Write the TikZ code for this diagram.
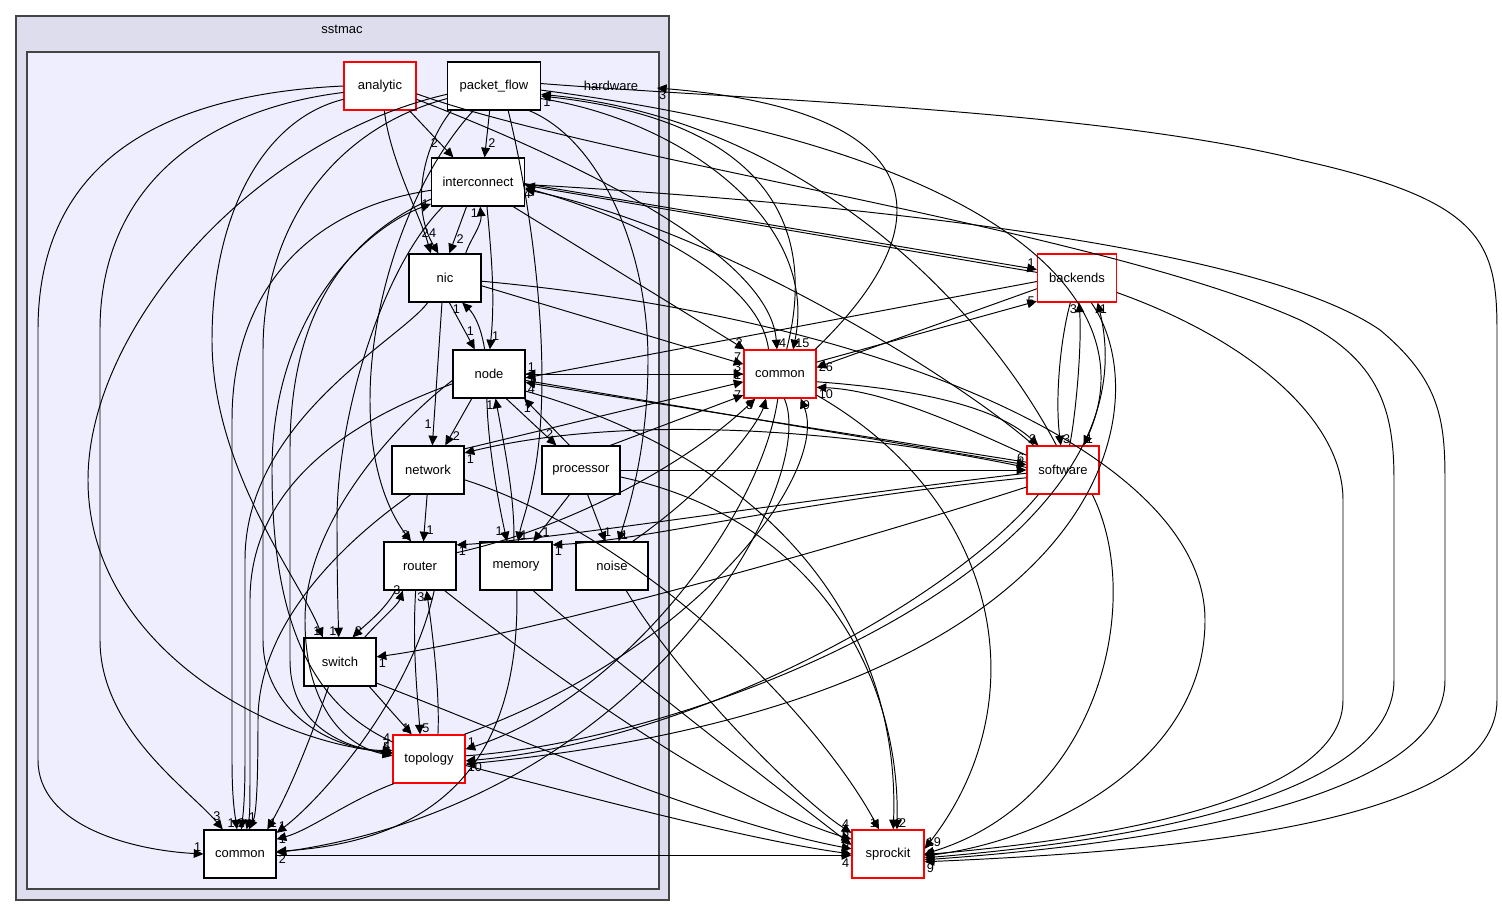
\documentclass[tikz,border=0pt]{standalone}
\usepackage{fontspec}
\setmainfont{Liberation Sans}
\usetikzlibrary{arrows.meta,calc,positioning}
\definecolor{outerfill}{HTML}{DDDDEE}
\definecolor{innerfill}{HTML}{EEEEFF}
\definecolor{clborder}{HTML}{444444}
\tikzset{
    >={Triangle[length=5.5pt,width=5pt]},
    dirbox/.style={
           rectangle,
           draw=black, line width=0.7pt,
           fill=white,
           minimum width=1.44cm,
           minimum height=0.96cm,
           inner sep=0pt,
           font=\fontsize{7.4pt}{8pt}\selectfont,
           text centered},
    redbox/.style={dirbox, draw=red},
    clframe/.style={draw=clborder, line width=0.9pt},
    cllabel/.style={font=\fontsize{7.4pt}{8pt}\selectfont, inner sep=0pt},
    dep/.style={
           ->,
           line width=0.55pt},
    hl/.style={font=\fontsize{7.2pt}{8pt}\selectfont, inner sep=1pt}
}

\begin{document}
\begin{tikzpicture}[x=0.02cm,y=-0.02cm]
          \useasboundingbox (0,0) rectangle (1502,916);
          % clusters
          \draw[clframe, fill=outerfill] (16,16) rectangle (669,900);
          \node[cllabel] (sstmaclbl) at (342,29) {sstmac};
          \draw[clframe, fill=innerfill] (27,52) rectangle (659,889);
          \node[cllabel] (hardwarelbl) at (611,86) {hardware};
          \coordinate (hardware) at (657,88);
          % directories
          \node[redbox] (analytic) at (380,86) {analytic};
          \node[dirbox, minimum width=1.86cm] (packetflow) at (494,86) {packet\_flow};
          \node[dirbox, minimum width=1.86cm] (interconnect) at (478,182) {interconnect};
          \node[dirbox] (nic) at (445,278) {nic};
          \node[dirbox] (hwnode) at (489,374) {node};
          \node[dirbox] (network) at (428,470) {network};
          \node[dirbox, minimum width=1.56cm] (processor) at (581,470) {processor};
          \node[dirbox] (router) at (420,566) {router};
          \node[dirbox] (memory) at (516,566) {memory};
          \node[dirbox] (noise) at (612,566) {noise};
          \node[dirbox] (switch) at (340,662) {switch};
          \node[redbox] (topology) at (429,759) {topology};
          \node[dirbox] (hwcommon) at (240,854) {common};
          \node[redbox] (common) at (780,374) {common};
          \node[redbox, minimum width=1.58cm] (backends) at (1077,278) {backends};
          \node[redbox] (software) at (1063,470) {software};
          \node[redbox] (sprockit) at (888,854) {sprockit};
          % analytic
          \draw[dep] (analytic.west) .. controls (150,95) and (38,170) .. (38,330) -- (38,760) .. controls (38,825) and (130,850) .. (hwcommon.west) node[hl,above left]{1};
          \draw[dep] (analytic.190) .. controls (200,110) and (100,190) .. (100,330) -- (100,640) .. controls (100,730) and (190,790) .. (hwcommon.125) node[hl,above left,yshift=4pt]{3};
          \draw[dep] (analytic.200) .. controls (260,120) and (212,220) .. (212,340) .. controls (212,470) and (300,580) .. (switch.125) node[hl,above left]{1};
          \draw[dep] (analytic.-40) -- (interconnect.135) node[hl,pos=.7,left]{2};
          \draw[dep] (analytic.-80) .. controls (390,160) and (420,215) .. (nic.120) node[hl,above left,yshift=8]{2};
          \draw[dep] (analytic.-20) .. controls (600,170) and (770,260) .. (common.97) node[hl,above right]{4};
          \draw[dep] (analytic.-12) .. controls (600,160) and (1100,230) .. (1300,320) .. controls (1380,360) and (1394,410) .. (1394,480) -- (1394,680) .. controls (1394,780) and (1200,835) .. (sprockit.-6) node[hl,right,yshift=2pt]{3};
          % packet_flow
          \draw[dep] (packetflow.-100) -- (interconnect.75) node[hl,pos=.7,right]{2};
          \draw[dep] (packetflow.190) .. controls (250,140) and (88,330) .. (88,480) .. controls (88,640) and (260,740) .. (topology.170) node[hl,above left]{4};
          \draw[dep] (packetflow.195) .. controls (330,130) and (263,230) .. (263,350) -- (263,640) .. controls (263,710) and (330,750) .. (topology.167) node[hl,above left,yshift=-2]{5};
          \draw[dep] (packetflow.-150) .. controls (420,150) and (412,210) .. (nic.105) node[hl,above left,yshift=8]{4};
          \draw[dep] (packetflow.-130) .. controls (410,180) and (370,300) .. (370,400) .. controls (370,480) and (395,520) .. (router.110) node[hl,above left]{2};
          \draw[dep] (packetflow.-60) .. controls (530,200) and (548,330) .. (540,430) .. controls (535,490) and (522,520) .. (memory.85) node[hl,above right]{1};
          \draw[dep] (packetflow.-35) .. controls (600,140) and (648,250) .. (648,360) .. controls (648,450) and (628,510) .. (noise.75) node[hl,above right]{1};
          \draw[dep] (packetflow.-15) .. controls (680,120) and (820,220) .. (common.62) node[hl,above right]{15};
          \draw[dep] (packetflow.-5) .. controls (1000,150) and (1150,300) .. (software.50) node[hl,above right]{1};
          \draw[dep] (packetflow.3) .. controls (750,100) and (1100,110) .. (1300,160) .. controls (1480,200) and (1497,240) .. (1497,330) -- (1497,700) .. controls (1497,820) and (1200,850) .. (sprockit.-12) node[hl,below right]{9};
          \draw[dep] (common.75) .. controls (820,220) and (760,120) .. (packetflow.-12) node[hl,below right]{1};
          \draw[dep] (software.105) .. controls (980,300) and (800,120) .. (packetflow.-10);
          \draw[dep] (common.35) .. controls (950,220) and (930,110) .. (hardware) node[hl,below right]{3};
          % interconnect
          \draw[dep] (interconnect.-115) -- (nic.80) node[hl,pos=.7,right]{2};
          \draw[dep] (nic.50) .. controls (470,240) and (482,225) .. (interconnect.-85) node[hl,below left]{1};
          \draw[dep] (interconnect.-70) .. controls (492,260) and (495,300) .. (hwnode.88) node[hl,above right,yshift=4]{1};
          \draw[dep] (interconnect.-35) -- (common.145) node[hl,above left]{2};
          \draw[dep] (interconnect.-160) .. controls (340,240) and (290,320) .. (290,450) -- (290,660) .. controls (290,730) and (350,748) .. (topology.172) node[hl,above left,yshift=5pt]{4};
          \draw[dep] (interconnect.-170) .. controls (300,210) and (232,300) .. (232,420) -- (232,760) .. controls (232,800) and (235,815) .. (hwcommon.97) node[hl,above left]{1};
          \draw[dep] (interconnect.-145) .. controls (380,270) and (337,420) .. (337,520) .. controls (337,580) and (338,610) .. (switch.93) node[hl,above left]{1};
          \draw[dep] (interconnect.-2) -- (backends.168) node[hl,above left]{1};
          \draw[dep] (backends.172) -- (interconnect.-4) node[hl,below right]{5};
          \draw[dep] (common.115) .. controls (760,280) and (640,220) .. (interconnect.-7) node[hl,below right,xshift=-2pt]{4};
          \draw[dep] (software.140) .. controls (960,380) and (720,230) .. (interconnect.-9);
          \draw[dep] (topology.155) .. controls (300,700) and (272,600) .. (272,470) .. controls (272,320) and (360,230) .. (interconnect.-155) node[hl,left]{1};
          \draw[dep] (interconnect.-3) .. controls (800,200) and (1250,240) .. (1380,330) .. controls (1440,380) and (1445,420) .. (1445,480) -- (1445,680) .. controls (1445,790) and (1200,840) .. (sprockit.-9);
          % nic
          \draw[dep] (nic.-80) -- (hwnode.120) node[hl,pos=.6,right]{1};
          \draw[dep] (hwnode.100) .. controls (480,320) and (470,310) .. (nic.-55) node[hl,below left]{1};
          \draw[dep] (nic.-97) -- (network.80) node[hl,pos=.85,left]{1};
          \draw[dep] (nic.-12) -- (common.165) node[hl,above left]{7};
          \draw[dep] (nic.-5) .. controls (900,320) and (1205,460) .. (1205,620) .. controls (1205,760) and (1050,840) .. (sprockit.-3);
          \draw[dep] (nic.-125) .. controls (400,340) and (245,420) .. (245,560) -- (245,760) .. controls (245,800) and (243,815) .. (hwcommon.87) node[hl,above]{2};
          % node
          \draw[dep] (hwnode.-125) -- (network.55) node[hl,pos=.8,right]{2};
          \draw[dep] (hwnode.-55) -- (processor.135) node[hl,pos=.75,right]{2};
          \draw[dep] (processor.115) -- (hwnode.-35) node[hl,pos=.8,left]{1};
          \draw[dep] (hwnode.-95) .. controls (488,450) and (500,510) .. (memory.110) node[hl,pos=.9,left]{1};
          \draw[dep] (memory.95) .. controls (515,500) and (505,450) .. (hwnode.-75) node[hl,below left]{1};
          \draw[dep] (hwnode.east) -- (common.west) node[hl,above left]{3};
          \draw[dep] (common.west) -- (hwnode.east) node[hl,above right]{1};
          \draw[dep] (backends.-175) -- (hwnode.-6) node[hl,right]{1};
          \draw[dep] (hwnode.-10) -- (software.172) node[hl,above left]{6};
          \draw[dep] (software.168) -- (hwnode.-13) node[hl,below right]{4};
          \draw[dep] (hwnode.-165) .. controls (380,410) and (250,470) .. (250,600) -- (250,760) .. controls (250,800) and (250,815) .. (hwcommon.75) node[hl,above right,yshift=3pt]{1};
          \draw[dep] (hwnode.-170) .. controls (400,420) and (305,520) .. (305,620) .. controls (305,700) and (340,745) .. (topology.175);
          \draw[dep] (hwnode.-25) .. controls (800,470) and (900,650) .. (sprockit.78) node[hl,above right]{2};
          % network
          \draw[dep] (network.-92) -- (router.82) node[hl,pos=.75,right]{1};
          \draw[dep] (network.30) -- (common.-168) node[hl,above left]{1};
          \draw[dep] (software.176) .. controls (800,420) and (600,420) .. (network.25) node[hl,below right]{1};
          \draw[dep] (network.-15) .. controls (650,540) and (820,720) .. (sprockit.110) node[hl,above left]{1};
          \draw[dep] (network.-125) .. controls (390,510) and (258,600) .. (258,720) .. controls (258,790) and (256,815) .. (hwcommon.70);
          % processor
          \draw[dep] (processor.-115) -- (memory.55) node[hl,pos=.8,right]{1};
          \draw[dep] (processor.-75) -- (noise.105) node[hl,pos=.8,right]{1};
          \draw[dep] (processor.40) -- (common.-150) node[hl,left]{7};
          \draw[dep] (processor.0) -- (software.180) node[hl,above left]{1};
          \draw[dep] (processor.-10) .. controls (820,520) and (900,680) .. (sprockit.70) node[hl,above right]{2};
          % router, switch, topology
          \draw[dep] (router.-135) .. controls (385,610) and (365,625) .. (switch.63) node[hl,above right]{2};
          \draw[dep] (switch.45) .. controls (380,620) and (398,605) .. (router.-125) node[hl,left]{3};
          \draw[dep] (router.-100) .. controls (412,650) and (418,700) .. (topology.110) node[hl,above right]{5};
          \draw[dep] (topology.70) .. controls (440,690) and (432,630) .. (router.-75) node[hl,below left]{3};
          \draw[dep] (router.-60) .. controls (410,700) and (320,800) .. (hwcommon.30) node[hl,above right]{1};
          \draw[dep] (router.-45) .. controls (520,650) and (720,800) .. (sprockit.158) node[hl,left,yshift=3.5pt]{6};
          \draw[dep] (router.20) .. controls (560,530) and (680,470) .. (common.-135) node[hl,below left]{5};
          \draw[dep] (software.-175) .. controls (800,500) and (550,540) .. (router.30) node[hl,below right]{1};
          \draw[dep] (switch.-40) -- (topology.125) node[hl,above left]{1};
          \draw[dep] (switch.-115) .. controls (310,740) and (290,790) .. (hwcommon.42) node[hl,above right]{1};
          \draw[dep] (switch.-30) .. controls (500,730) and (700,820) .. (sprockit.172) node[hl,left,yshift=-1.5pt]{4};
          \draw[dep] (software.-155) .. controls (800,560) and (500,640) .. (switch.8) node[hl,below right]{1};
          \draw[dep] (topology.-145) .. controls (350,800) and (310,830) .. (hwcommon.22) node[hl,right]{1};
          \draw[dep] (topology.-10) .. controls (600,800) and (750,840) .. (sprockit.180) node[hl,left,yshift=-5pt]{4};
          \draw[dep] (topology.35) .. controls (700,650) and (830,470) .. (common.-50) node[hl,below right]{9};
          \draw[dep] (common.-95) .. controls (760,520) and (620,700) .. (topology.15) node[hl,above right]{1};
          \draw[dep] (software.-135) .. controls (950,600) and (700,740) .. (topology.-3) node[hl,below right]{10};
          \draw[dep] (backends.-60) .. controls (1160,400) and (1120,700) .. (topology.-8);
          \draw[dep] (topology.5) .. controls (700,740) and (1160,560) .. (backends.-50) node[hl,below right]{1};
          % common (hardware)
          \draw[dep] (hwcommon.-2) -- (sprockit.-178);
          \draw[dep] (common.-80) .. controls (820,480) and (650,800) .. (hwcommon.2) node[hl,below right]{2};
          \draw[dep] (memory.-88) .. controls (520,750) and (450,840) .. (hwcommon.4);
          \draw[dep] (memory.-55) .. controls (600,650) and (780,790) .. (sprockit.166) node[hl,left,yshift=1pt]{5};
          \draw[dep] (software.-168) .. controls (800,500) and (650,540) .. (memory.30) node[hl,below right]{1};
          \draw[dep] (noise.50) .. controls (720,480) and (760,420) .. (common.-120) node[hl,below]{1};
          \draw[dep] (noise.-60) .. controls (680,680) and (800,800) .. (sprockit.150) node[hl,left,yshift=5pt]{4};
          % common, backends, software
          \draw[dep] (common.18) -- (backends.-150) node[hl,left]{5};
          \draw[dep] (backends.-165) -- (common.10) node[hl,right]{26};
          \draw[dep] (common.-12) .. controls (930,390) and (1000,410) .. (software.135) node[hl,above left]{2};
          \draw[dep] (software.158) .. controls (950,420) and (880,390) .. (common.-20) node[hl,below right]{10};
          \draw[dep] (common.-30) .. controls (1000,500) and (1040,700) .. (sprockit.8) node[hl,above right]{19};
          \draw[dep] (backends.-105) .. controls (1060,340) and (1055,400) .. (software.95) node[hl,above right]{3};
          \draw[dep] (software.75) .. controls (1075,420) and (1082,350) .. (backends.-85) node[hl,below left]{3};
          \draw[dep] (backends.-20) .. controls (1250,340) and (1343,420) .. (1343,500) -- (1343,700) .. controls (1343,790) and (1150,835) .. (sprockit.-1);
          \draw[dep] (software.-40) .. controls (1145,600) and (1100,800) .. (sprockit.0);
\end{tikzpicture}
\end{document}
